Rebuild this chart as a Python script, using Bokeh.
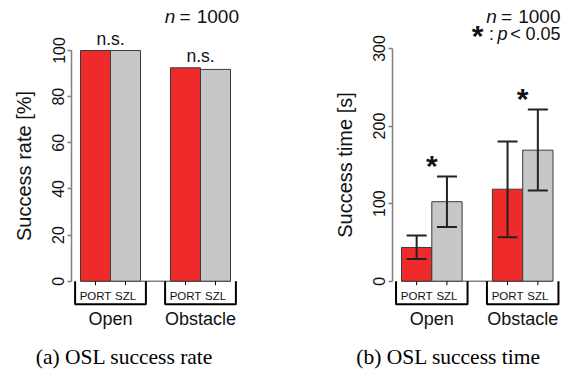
from bokeh.plotting import figure
from bokeh.models import Range1d, ColumnDataSource, Whisker, TeeHead, Label, FixedTicker
from bokeh.layouts import row
from bokeh.core.properties import value
from bokeh.embed import file_html
from bokeh.resources import INLINE

# ---------------- data ----------------
categories = ["Open", "Obstacle"]
methods = ["PORT", "SZL"]

rate_port = [100.0, 92.5]
rate_szl = [100.0, 91.8]
rate_sig = ["n.s.", "n.s."]
rate_ticks = [0, 20, 40, 60, 80, 100]

time_port = [43.5, 118.6]
time_port_lo = [28.5, 56.5]
time_port_hi = [59.0, 180.2]
time_szl = [102.5, 168.9]
time_szl_lo = [69.8, 117.0]
time_szl_hi = [135.0, 221.5]
time_sig = ["*", "*"]
time_ticks = [0, 100, 200, 300]

n_value = "1000"
p_value = "0.05"

captions = ["(a) OSL success rate", "(b) OSL success time"]
ylabels = ["Success rate [%]", "Success time [s]"]

# ---------------- style ----------------
RED = "#EE2A2A"
GRAY = "#C6C7C9"
EDGE = "#3a3a3a"
AXIS = "#808080"
TXT = "#111111"
SANS = "Liberation Sans"
SERIF = "Liberation Serif"
H = 372


def make_panel(width, fig_left, axis_px, x0px, xs, y0px, ys,
               port, szl, ticks, ylabel, caption, cap_x,
               port_err=None, szl_err=None, sig=None, sig_kind="text"):
    X = lambda px: (px - x0px) / xs
    Y = lambda py: (y0px - py) / ys
    D = lambda d: d / ys
    p = figure(width=width, height=H,
               x_range=Range1d(X(fig_left), X(fig_left + width)),
               y_range=Range1d(Y(H), Y(0)),
               output_backend="svg", toolbar_location=None,
               x_axis_location=None,
               min_border_left=0, min_border_right=0,
               min_border_top=0, min_border_bottom=0)
    p.grid.visible = False
    p.outline_line_color = None
    p.background_fill_color = "white"
    p.border_fill_color = "white"

    ng = len(categories)
    port_left = [1 + 3 * g for g in range(ng)]
    szl_left = [2 + 3 * g for g in range(ng)]
    centers = [2 + 3 * g for g in range(ng)]

    # baseline
    p.segment(x0=[min(port_left)], x1=[max(szl_left) + 1], y0=[0], y1=[0],
              line_color=AXIS, line_width=1.5)

    p.quad(left=port_left, right=[l + 1 for l in port_left], bottom=0, top=port,
           fill_color=RED, line_color=EDGE, line_width=1)
    p.quad(left=szl_left, right=[l + 1 for l in szl_left], bottom=0, top=szl,
           fill_color=GRAY, line_color=EDGE, line_width=1)

    tops = [max(a, b) for a, b in zip(port, szl)]
    if port_err is not None:
        for lefts, (lo, hi) in ((port_left, port_err), (szl_left, szl_err)):
            src = ColumnDataSource(dict(x=[l + 0.5 for l in lefts], lo=lo, hi=hi))
            w = Whisker(source=src, base="x", lower="lo", upper="hi",
                        line_color="#222222", line_width=2, level="overlay",
                        upper_head=TeeHead(size=20, line_color="#222222", line_width=2),
                        lower_head=TeeHead(size=20, line_color="#222222", line_width=2))
            p.add_layout(w)
        tops = [max(a, b) for a, b in zip(port_err[1], szl_err[1])]

    # significance markers
    if sig_kind == "text":
        p.text(x=centers, y=[t + D(12) for t in tops], text=sig,
               text_font=value(SANS), text_font_size="17.5px", text_color=TXT,
               text_align="center", text_baseline="middle")
    else:
        p.text(x=centers, y=[t + D(10.7) for t in tops], text=sig,
               text_font=value(SANS), text_font_size="30px", text_font_style="bold",
               text_color=TXT, text_align="center", text_baseline="alphabetic")

    # group brackets
    bx, by = [], []
    for pl, sl in zip(port_left, szl_left):
        a, b = pl - 0.18, sl + 1.18
        bx.append([a, a, b, b])
        by.append([0, -D(23), -D(23), 0])
    p.multi_line(xs=bx, ys=by, line_color="black", line_width=2)
    tick_x = [l + 0.5 for l in port_left + szl_left]
    p.segment(x0=tick_x, x1=tick_x, y0=[0] * len(tick_x), y1=[-D(4)] * len(tick_x),
              line_color="black", line_width=1)
    p.text(x=tick_x, y=[-D(14.8)] * len(tick_x),
           text=[methods[0]] * ng + [methods[1]] * ng,
           text_font=value(SANS), text_font_size="11.5px", text_color=TXT,
           text_align="center", text_baseline="middle")
    p.text(x=centers, y=[-D(37.6)] * ng, text=categories,
           text_font=value(SANS), text_font_size="18px", text_color=TXT,
           text_align="center", text_baseline="middle")

    # y axis, placed inside the frame at a fixed location
    ax = p.yaxis[0]
    ax.fixed_location = X(axis_px)
    ax.ticker = FixedTicker(ticks=ticks)
    ax.bounds = (ticks[0], ticks[-1])
    ax.axis_line_color = AXIS
    ax.axis_line_width = 1.5
    ax.major_tick_line_color = AXIS
    ax.major_tick_line_width = 1.5
    ax.major_tick_out = 4
    ax.major_tick_in = 0
    ax.minor_tick_line_color = None
    ax.major_label_orientation = "vertical"
    ax.major_label_text_font = SANS
    ax.major_label_text_font_size = "16px"
    ax.major_label_text_color = TXT
    ax.major_label_standoff = 3
    ax.axis_label = ylabel
    ax.axis_label_text_font = SANS
    ax.axis_label_text_font_size = "20px"
    ax.axis_label_text_font_style = "normal"
    ax.axis_label_text_color = TXT
    ax.axis_label_standoff = 15

    # caption
    p.add_layout(Label(x=X(cap_x), y=Y(356.3), text=caption, text_align="center",
                       text_baseline="middle", text_font=SERIF,
                       text_font_size="21.5px", text_color="black"))
    return p, X, Y


p1, X1, Y1 = make_panel(285, 0, 71, 50.0, 30.0, 280.7, 2.307,
                        rate_port, rate_szl, rate_ticks, ylabels[0], captions[0], 124,
                        sig=rate_sig, sig_kind="text")
p2, X2, Y2 = make_panel(284, 285, 391.7, 370.7, 30.3, 280.7, 0.7757,
                        time_port, time_szl, time_ticks, ylabels[1], captions[1], 448,
                        port_err=(time_port_lo, time_port_hi),
                        szl_err=(time_szl_lo, time_szl_hi), sig=time_sig, sig_kind="star")


def piece(p, X, Y, x, y, txt, align="center", style="normal", size="19px"):
    p.add_layout(Label(x=X(x), y=Y(y), text=txt, text_align=align,
                       text_baseline="middle", text_font=SANS,
                       text_font_style=style, text_font_size=size, text_color=TXT))


for p, X, Y, R in ((p1, X1, Y1, 238.5), (p2, X2, Y2, 560)):
    piece(p, X, Y, R, 15.7, n_value, align="right")
    piece(p, X, Y, R - 54, 15.7, "=")
    piece(p, X, Y, R - 69, 15.7, "n", style="italic")

R2 = 560
piece(p2, X2, Y2, R2, 33, p_value, align="right", size="18px")
piece(p2, X2, Y2, R2 - 45, 33, "<", size="18px")
piece(p2, X2, Y2, R2 - 58, 33, "p", style="italic", size="18px")
piece(p2, X2, Y2, R2 - 69, 33, ":", size="18px")
p2.add_layout(Label(x=X2(R2 - 83), y=Y2(34.5), text="*", text_align="center",
                    text_baseline="alphabetic", text_font=SANS, text_font_style="bold",
                    text_font_size="30px", text_color=TXT))

layout = row(p1, p2, spacing=0)
open("out.html", "w").write(file_html(layout, INLINE))
